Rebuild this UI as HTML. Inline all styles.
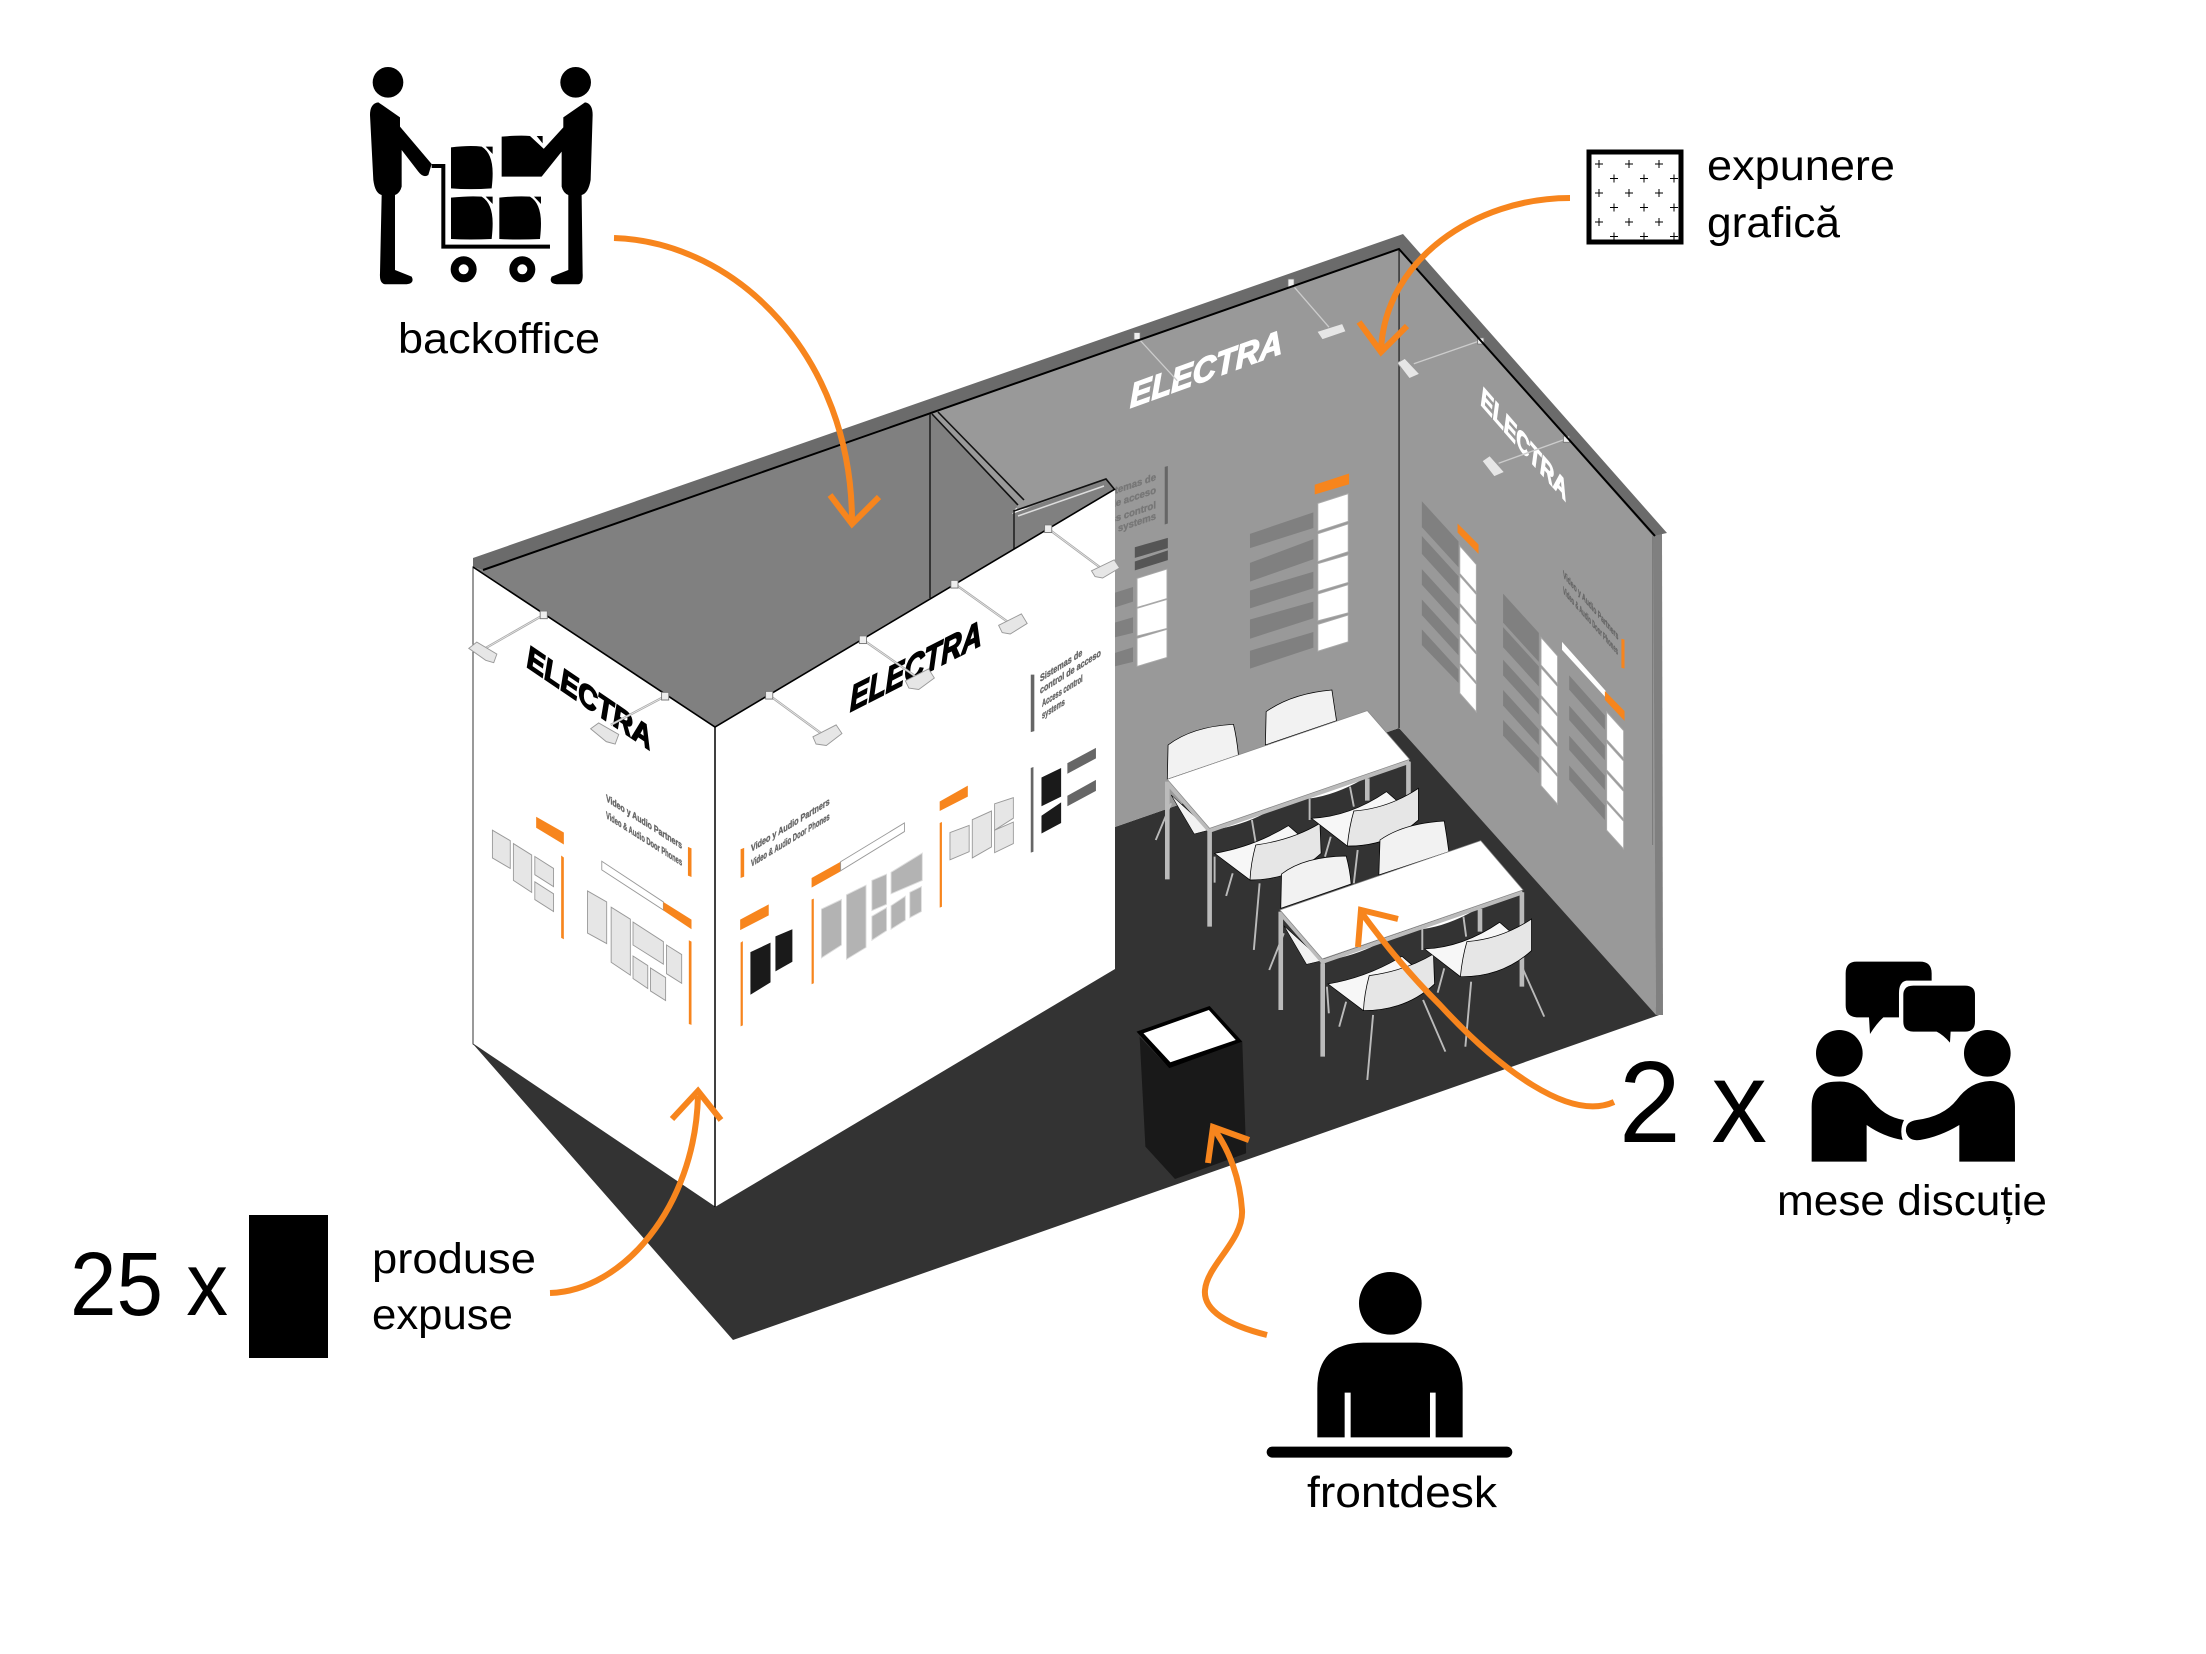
<!DOCTYPE html>
<html><head><meta charset="utf-8"><style>
html,body{margin:0;padding:0;background:#fff}
svg{display:block}
text{font-family:"Liberation Sans",sans-serif}
.l{font-size:43px;fill:#000}
.s{font-weight:bold;fill:#666;font-size:10px;stroke:#666;stroke-width:.4}
.e{font-weight:bold;font-style:italic}
.o{fill:#f7851d}
.f{fill:#e6e6e6;stroke:#999;stroke-width:2}
.g{fill:#b3b3b3;stroke:#ddd;stroke-width:2}
.w{fill:#fff;stroke:#aaa;stroke-width:2}
.d{fill:#808080}
.k{fill:#1a1a1a}
.a{stroke:#aaa;stroke-width:5;fill:none}
.a2{stroke:#eee;stroke-width:1.5;fill:none}
.c{fill:#f2f2f2;stroke:#000;stroke-width:2}
.ar{fill:none;stroke:#f7851d;stroke-width:6}
</style></head><body>
<svg xmlns="http://www.w3.org/2000/svg" width="2206" height="1654" viewBox="0 0 2206 1654">
<defs><pattern id="p" patternUnits="userSpaceOnUse" x="1577" y="200.5" width="30" height="29">
<path d="M3 7h8M7 3v8M18 21.5h8M22 17.5v8" stroke="#000" stroke-width="1" fill="none"/></pattern></defs>
<rect width="2206" height="1654" fill="#fff"/>

<!-- floor -->
<polygon points="473,1044 733,1340 1662,1014 1399,728 1115,827" fill="#333"/>
<!-- walls -->
<polygon points="930,412 1399,249 1399,728 1115,827 1115,488 1018,510" fill="#999"/>
<polygon points="1399,249 1655,536 1656,1015 1399,728" fill="#999"/>
<polygon points="1653,536 1662,532 1663,1015 1656,1015" fill="#808080"/>
<!-- rim -->
<polygon points="473,558 1403,234 1667,533 1653,536 1399,249 483,570 473,567" fill="#6b6b6b"/>

<!-- back wall details -->
<g transform="translate(1050 220) scale(.4464)">
<path d="M782 65V1138" stroke="#444" stroke-width="4"/>
<path d="M1350 708V1400" stroke="#777" stroke-width="2"/>
<polygon points="257,553 264,551 264,680 257,682" fill="#666"/>
<polygon points="190,733 264,712 264,735 190,757" fill="#555"/>
<polygon points="190,765 264,740 264,762 190,785" fill="#555"/>
<polygon class="w" points="195,803 262,782 262,848 195,868"/>
<polygon class="w" points="195,870 262,850 262,915 195,932"/>
<polygon class="w" points="195,937 262,917 262,980 195,1000"/>
<polygon class="d" points="145,835 186,822 186,855 145,868"/>
<polygon class="d" points="145,902 186,890 186,925 145,935"/>
<polygon class="d" points="145,970 186,957 186,990 145,1000"/>
<polygon class="o" points="593,593 670,568 670,592 593,615"/>
<polygon class="w" points="600,635 668,613 668,675 600,697"/>
<polygon class="w" points="600,703 668,681 668,743 600,765"/>
<polygon class="w" points="600,770 668,750 668,812 600,832"/>
<polygon class="w" points="600,838 668,817 668,880 600,898"/>
<polygon class="w" points="600,906 668,885 668,945 600,966"/>
<polygon class="d" points="448,703 590,655 590,690 448,735"/>
<polygon class="d" points="448,768 590,715 590,760 448,810"/>
<polygon class="d" points="448,830 590,788 590,825 448,870"/>
<polygon class="d" points="448,895 590,855 590,892 448,938"/>
<polygon class="d" points="448,965 590,923 590,958 448,1005"/>
<polygon class="o" points="913,680 960,727 960,748 913,700"/>
<polygon class="w" points="918,730 955,772 955,834 918,792"/>
<polygon class="w" points="918,797 955,839 955,901 918,859"/>
<polygon class="w" points="918,864 955,906 955,968 918,926"/>
<polygon class="w" points="918,931 955,973 955,1035 918,993"/>
<polygon class="w" points="918,998 955,1040 955,1102 918,1060"/>
<polygon class="d" points="833,630 915,720 915,778 833,688"/>
<polygon class="d" points="833,708 915,798 915,838 833,748"/>
<polygon class="d" points="833,782 915,872 915,907 833,817"/>
<polygon class="d" points="833,850 915,940 915,975 833,885"/>
<polygon class="d" points="833,917 915,1007 915,1037 833,952"/>
<polygon class="w" points="1100,935 1137,977 1137,1039 1100,997"/>
<polygon class="w" points="1100,1003 1137,1045 1137,1107 1100,1065"/>
<polygon class="w" points="1100,1070 1137,1112 1137,1174 1100,1132"/>
<polygon class="w" points="1100,1138 1137,1180 1137,1242 1100,1200"/>
<polygon class="w" points="1100,1205 1137,1247 1137,1309 1100,1267"/>
<polygon class="d" points="1015,837 1095,925 1095,990 1015,902"/>
<polygon class="d" points="1015,912 1095,1000 1095,1045 1015,957"/>
<polygon class="d" points="1015,985 1095,1073 1095,1108 1015,1020"/>
<polygon class="d" points="1015,1053 1095,1141 1095,1176 1015,1088"/>
<polygon class="d" points="1015,1120 1095,1205 1095,1240 1015,1155"/>
<polygon points="1147,945 1245,1055 1245,1070 1147,963" fill="#fff"/>
<polygon class="o" points="1243,1055 1287,1100 1287,1122 1243,1075"/>
<polygon class="o" points="1280,938 1287,940 1287,1005 1280,1003"/>
<polygon class="w" points="1247,1102 1285,1144 1285,1206 1247,1164"/>
<polygon class="w" points="1247,1170 1285,1212 1285,1274 1247,1232"/>
<polygon class="w" points="1247,1238 1285,1280 1285,1342 1247,1300"/>
<polygon class="w" points="1247,1305 1285,1347 1285,1409 1247,1367"/>
<polygon class="d" points="1163,1020 1243,1110 1243,1142 1163,1052"/>
<polygon class="d" points="1163,1088 1243,1178 1243,1210 1163,1120"/>
<polygon class="d" points="1163,1155 1243,1245 1243,1277 1163,1187"/>
<polygon class="d" points="1163,1222 1243,1312 1243,1344 1163,1254"/>
</g>
<!-- wall text -->
<text class="e" fill="#fff" stroke="#fff" stroke-width="1.4" font-size="34" textLength="162" lengthAdjust="spacingAndGlyphs" transform="matrix(.941 -.34 0 1 1130 408)">ELECTRA</text>
<text class="e" fill="#fff" stroke="#fff" stroke-width="1.4" font-size="30" textLength="130" lengthAdjust="spacingAndGlyphs" transform="matrix(.658 .752 0 1 1481 405)">ELECTRA</text>
<g transform="translate(1050 220) scale(.4464)">
<g stroke="#ccc" stroke-width="3" fill="none">
<path d="M195 262L285 360M540 142L625 240M965 270L815 322M1157 490L1005 545"/>
</g>
<g fill="#eee" stroke="#777" stroke-width="2">
<rect x="188" y="252" width="14" height="16"/><rect x="533" y="132" width="14" height="18"/>
<rect x="958" y="264" width="14" height="14"/><rect x="1150" y="484" width="14" height="14"/>
</g>
<polygon class="f" points="598,250 655,232 663,250 610,268"/>
<polygon class="f" points="778,320 795,310 828,345 805,355"/>
<polygon class="f" points="968,540 985,528 1018,565 995,575"/>
</g>
<g>
<text class="s" style="fill:#777;stroke:#777" text-anchor="end" transform="matrix(.95 -.32 0 1 1156 480)">Sistemas de</text>
<text class="s" style="fill:#777;stroke:#777" text-anchor="end" transform="matrix(.95 -.32 0 1 1156 493)">de acceso</text>
<text class="s" style="fill:#777;stroke:#777" text-anchor="end" transform="matrix(.95 -.32 0 1 1156 508)">Access control</text>
<text class="s" style="fill:#777;stroke:#777" text-anchor="end" transform="matrix(.95 -.32 0 1 1156 519)">systems</text>
</g>
<text class="s" textLength="84" lengthAdjust="spacingAndGlyphs" transform="matrix(.658 .753 0 1 1563 577)">Video y Audio Partners</text>
<text class="s" textLength="83" lengthAdjust="spacingAndGlyphs" transform="matrix(.662 .75 0 1 1563 593)">Video &amp; Audio Door Phones</text>

<!-- interior backoffice -->
<polygon points="483,570 930,412 1018,505 1012,514 1106,479 1115,490 1115,489 715,727 473,567" fill="#808080"/>
<path d="M483 570L1399 249L1655 536" stroke="#000" stroke-width="2" fill="none"/>
<path d="M930 414V598M1014 510V550" stroke="#222" stroke-width="1.6"/>
<path d="M932 414L1018 505M938 412L1024 500" stroke="#111" stroke-width="1.6" fill="none"/>
<path d="M1014 511L1106 479L1115 490" stroke="#111" stroke-width="1.6" fill="none"/>
<path d="M1018 516L1104 486" stroke="#ddd" stroke-width="1.5" fill="none"/>

<!-- furniture -->
<g transform="translate(1100 680) scale(.3846 .3333)">
<path class="c" d="M175 298L177 195Q240 140 347 133Q355 170 360 225Z"/>
<path class="c" d="M430 195L432 95Q500 40 603 30Q608 70 615 122Z"/>
<g stroke="#bbb" stroke-width="5" fill="none">
<path d="M395 420L405 490M545 355V420M650 320L660 380M185 370L145 480"/>
<path d="M838 745V810M945 710L952 770M478 760L440 870"/>
</g>
<path d="M185 345L245 462L285 450Z" fill="#f2f2f2" stroke="#000" stroke-width="1.5"/>
<path d="M295 450Q370 435 425 402L300 445Z" fill="#fff"/>
<path d="M548 355Q610 345 680 300L545 345Z" fill="#fff"/>
<!-- table 1 -->
<g stroke="#bbb" stroke-width="12" fill="none" stroke-linecap="butt">
<path d="M175 305V598M285 455V740M802 245V345M695 295V362"/>
<path d="M175 308L285 452L805 245"/>
</g>
<polygon points="175,298 695,92 805,238 285,445" fill="#fff" stroke="#888" stroke-width="2"/>
<!-- front chairs table 1 -->
<g stroke="#bbb" stroke-width="5" fill="none"><path d="M298 530V608M345 580L328 648M415 610L400 810M600 470L585 530M670 510L660 610"/></g>
<path class="c" d="M298 520Q400 500 490 437L515 462L575 520Q500 600 390 600Z" style="fill:#f7f7f7"/>
<path class="c" d="M572 430Q500 480 405 495Q392 550 390 600Q500 600 575 520Z" style="fill:#e6e6e6"/>
<path class="c" d="M550 415Q650 410 745 335L770 360L828 420Q750 500 643 498Z" style="fill:#f7f7f7"/>
<path class="c" d="M828 325Q750 385 660 393Q648 440 643 498Q750 500 828 420Z" style="fill:#e6e6e6"/>
<!-- back chairs table 2 -->
<path class="c" d="M470 685L472 582Q530 530 640 528Q650 570 653 612Z"/>
<path class="c" d="M725 585L728 480Q790 430 895 423Q902 470 907 515Z"/>
<path d="M478 737L537 853L578 842Z" fill="#f2f2f2" stroke="#000" stroke-width="1.5"/>
<path d="M588 842Q663 827 718 794L593 837Z" fill="#fff"/>
<path d="M841 747Q903 737 973 692L838 737Z" fill="#fff"/>
<!-- table 2 -->
<g stroke="#bbb" stroke-width="12" fill="none">
<path d="M470 695V990M579 850V1130M1097 637V920M988 687V755"/>
<path d="M470 700L579 845L1099 637"/>
</g>
<polygon points="468,690 990,482 1100,630 578,837" fill="#fff" stroke="#888" stroke-width="2"/>
<!-- front chairs table 2 -->
<g stroke="#bbb" stroke-width="5" fill="none"><path d="M590 920L595 1000M640 965L622 1040M710 1005L695 1200M840 960L898 1115M895 865L878 938M965 905L950 1100M1095 855L1155 1010"/></g>
<path class="c" d="M593 912Q695 892 785 829L810 854L870 912Q795 992 685 992Z" style="fill:#f7f7f7"/>
<path class="c" d="M867 822Q795 872 700 887Q687 942 685 992Q795 992 870 912Z" style="fill:#e6e6e6"/>
<path class="c" d="M844 807Q944 802 1039 727L1064 752L1122 812Q1044 892 937 890Z" style="fill:#f7f7f7"/>
<path class="c" d="M1122 717Q1044 777 954 785Q942 832 937 890Q1044 892 1122 812Z" style="fill:#e6e6e6"/>
<!-- lectern -->
<polygon points="103,1070 180,1165 370,1085 380,1420 195,1497 118,1400" fill="#191919"/>
<polygon points="95,1055 285,978 370,1085 180,1165" fill="#000"/>
<polygon points="113,1060 283,990 353,1080 183,1147" fill="#fff"/>
</g>

<!-- white walls -->
<polygon points="473,567 715,727 715,1207 473,1044" fill="#fff" stroke="#333" stroke-width="1"/>
<polygon points="715,727 1115,489 1115,969 715,1207" fill="#fff"/>
<path d="M715 727V1207" stroke="#000" stroke-width="1.5"/>
<path d="M473 567L715 727L1115 489" stroke="#000" stroke-width="1.6" fill="none"/>

<g transform="translate(450 500) scale(.4464 .4785)">
<polygon class="o" points="193,662 255,695 255,720 193,685"/>
<polygon class="o" points="249,743 255,747 255,918 249,915"/>
<polygon class="f" points="95,690 135,712 135,770 95,748"/>
<polygon class="f" points="142,718 183,742 183,820 142,795"/>
<polygon class="f" points="190,745 232,770 232,808 190,783"/>
<polygon class="f" points="190,798 232,823 232,860 190,835"/>
<polygon points="340,755 478,840 478,857 340,773" fill="#fff" stroke="#999" stroke-width="2"/>
<polygon class="o" points="478,840 541,877 541,897 478,858"/>
<polygon class="o" points="533,725 541,728 541,788 533,785"/>
<polygon class="o" points="535,920 541,923 541,1097 535,1095"/>
<polygon class="f" points="308,817 351,840 351,927 308,905"/>
<polygon class="f" points="361,851 404,876 404,993 361,966"/>
<polygon class="f" points="410,882 478,923 478,970 410,930"/>
<polygon class="f" points="485,930 519,950 519,1010 485,990"/>
<polygon class="f" points="410,953 443,973 443,1021 410,1000"/>
<polygon class="f" points="449,978 483,998 483,1046 449,1026"/>
<polygon class="o" points="651,730 659,727 659,787 651,790"/>
<polygon class="o" points="650,877 714,845 714,868 650,899"/>
<polygon class="o" points="651,925 656,922 656,1098 651,1100"/>
<polygon class="k" points="673,945 718,925 718,1008 673,1034"/>
<polygon class="k" points="729,912 767,897 767,965 729,985"/>
<polygon class="o" points="810,790 875,756 875,776 810,810"/>
<polygon points="875,756 1018,675 1018,693 875,775" fill="#fff" stroke="#999" stroke-width="2"/>
<polygon class="o" points="810,835 815,833 815,1010 810,1012"/>
<polygon class="g" points="832,855 877,835 877,930 832,957"/>
<polygon class="g" points="888,825 932,805 932,935 888,960"/>
<polygon class="g" points="945,795 978,782 978,845 945,858"/>
<polygon class="g" points="945,870 978,852 978,900 945,920"/>
<polygon class="g" points="988,778 1058,738 1058,795 988,823"/>
<polygon class="g" points="988,848 1020,828 1020,878 988,897"/>
<polygon class="g" points="1030,820 1056,808 1056,860 1030,873"/>
<polygon class="o" points="1097,630 1160,597 1160,620 1097,650"/>
<polygon class="o" points="1097,675 1102,673 1102,850 1097,852"/>
<polygon class="f" points="1120,695 1163,680 1163,735 1120,752"/>
<polygon class="f" points="1170,668 1213,650 1213,725 1170,748"/>
<polygon class="f" points="1220,635 1262,622 1262,665 1220,690"/>
<polygon class="f" points="1220,690 1262,673 1262,718 1220,737"/>
<polygon fill="#666" points="1301,365 1309,365 1309,483 1301,485"/>
<polygon fill="#666" points="1301,560 1307,558 1307,735 1301,737"/>
<polygon class="k" points="1325,580 1369,560 1369,620 1325,640"/>
<polygon class="k" points="1325,660 1369,632 1369,675 1325,697"/>
<polygon fill="#666" points="1383,550 1447,518 1447,540 1383,572"/>
<polygon fill="#666" points="1383,618 1447,585 1447,608 1383,640"/>
</g>

<!-- white wall texts -->
<text class="e" fill="#000" stroke="#000" stroke-width="1.6" font-size="34" textLength="150" lengthAdjust="spacingAndGlyphs" transform="matrix(.827 .562 0 1 527 667)">ELECTRA</text>
<text class="e" fill="#000" stroke="#000" stroke-width="1.6" font-size="36" textLength="148" lengthAdjust="spacingAndGlyphs" transform="matrix(.89 -.455 0 1 850 712)">ELECTRA</text>
<text class="s" textLength="90" lengthAdjust="spacingAndGlyphs" transform="matrix(.845 .534 0 1 606 801)">Video y Audio Partners</text>
<text class="s" textLength="90" lengthAdjust="spacingAndGlyphs" transform="matrix(.845 .534 0 1 606 818)">Video &amp; Audio Door Phones</text>
<text class="s" textLength="92" lengthAdjust="spacingAndGlyphs" transform="matrix(.855 -.519 0 1 751 852)">Video y Audio Partners</text>
<text class="s" textLength="92" lengthAdjust="spacingAndGlyphs" transform="matrix(.855 -.519 0 1 751 867)">Video &amp; Audio Door Phones</text>
<text class="s" textLength="50" lengthAdjust="spacingAndGlyphs" transform="matrix(.846 -.533 0 1 1040 682)">Sistemas de</text>
<text class="s" textLength="72" lengthAdjust="spacingAndGlyphs" transform="matrix(.846 -.533 0 1 1040 694)">control de acceso</text>
<text class="s" textLength="48" lengthAdjust="spacingAndGlyphs" transform="matrix(.846 -.533 0 1 1042 707)">Access control</text>
<text class="s" textLength="27" lengthAdjust="spacingAndGlyphs" transform="matrix(.846 -.533 0 1 1042 719)">systems</text>

<!-- lamps on white wall -->
<g transform="translate(450 500) scale(.4464 .4785)">
<path class="a" d="M210 240L75 312M482 410L360 470M715 408L835 490M925 292L1045 370M1130 175L1250 255M1340 60L1455 140"/>
<path class="a2" d="M210 240L75 312M482 410L360 470M715 408L835 490M925 292L1045 370M1130 175L1250 255M1340 60L1455 140"/>
<g fill="#eee" stroke="#777" stroke-width="2">
<rect x="202" y="232" width="16" height="16"/><rect x="474" y="402" width="16" height="16"/>
<rect x="707" y="400" width="16" height="16"/><rect x="917" y="284" width="16" height="16"/>
<rect x="1122" y="168" width="16" height="16"/><rect x="1332" y="52" width="16" height="16"/>
</g>
<polygon class="f" points="42,310 60,297 105,322 98,340 80,335"/>
<polygon class="f" points="315,478 333,466 378,490 370,510 350,505"/>
<polygon class="f" points="813,495 865,470 878,488 843,513 820,510"/>
<polygon class="f" points="1020,378 1072,353 1085,372 1050,396 1028,393"/>
<polygon class="f" points="1229,262 1280,238 1293,258 1255,280 1237,277"/>
<polygon class="f" points="1437,148 1488,125 1500,142 1462,163 1445,160"/>
</g>

<!-- arrows -->
<g class="ar">
<path d="M614 238C737 242 852 357 852 522"/><path d="M830 495L852 524L879 497"/>
<path d="M1570 198C1475 198 1385 260 1381 350"/><path d="M1359 322L1381 352L1407 326"/>
<path d="M550 1293C622 1291 695 1208 698 1096"/><path d="M672 1119L698 1091L721 1120"/>
<path d="M1614 1102C1570 1122 1500 1070 1440 1005C1410 975 1385 945 1361 912"/><path d="M1398 919L1361 910L1358 947"/>
<path d="M1267 1335C1227 1325 1203 1310 1205 1290C1207 1265 1244 1240 1242 1210C1240 1180 1230 1150 1213 1128"/><path d="M1249 1140L1213 1127L1208 1163"/>
</g>

<!-- backoffice icon -->
<g transform="translate(340 40) scale(.3333)" fill="#000">
<circle cx="144" cy="127" r="46"/><circle cx="707" cy="127" r="46"/>
<path d="M90 225Q90 190 115 187L180 232V260L275 372L265 405Q250 415 235 395L185 330V440Q180 460 165 465V690L215 710Q225 730 200 733H135Q118 730 120 700L125 465Q105 460 100 420Z"/>
<path d="M758 225Q758 190 735 187L670 232V262L608 330L605 410L665 335V440Q670 460 685 465V690L635 710Q625 730 650 733H715Q730 730 728 700L725 465Q745 460 752 420Z"/>
<path d="M275 378H310V620H630" fill="none" stroke="#000" stroke-width="12"/>
<circle cx="371" cy="688" r="27" fill="none" stroke="#000" stroke-width="24"/>
<circle cx="547" cy="688" r="27" fill="none" stroke="#000" stroke-width="24"/>
<path d="M333 322Q390 315 425 320Q458 340 458 400Q458 420 455 445Q390 450 333 445ZM437 320H458V342Z"/>
<path d="M333 473Q390 467 425 470Q458 490 458 550Q458 570 455 597Q390 600 333 597ZM437 470H458V492Z"/>
<path d="M478 473Q535 467 570 470Q603 490 603 550Q603 570 600 597Q535 600 478 597ZM582 470H603V492Z"/>
<path d="M485 290Q540 285 570 288L610 325L630 345L605 410H485ZM590 288H608V310Z"/>
</g>

<!-- mese icon -->
<g transform="translate(1700 940) scale(.3333)" fill="#000">
<path d="M470 65H660Q695 65 695 100V122H620Q597 125 597 160V232H550Q530 250 510 282L507 232H470Q437 230 437 195V100Q437 65 470 65Z"/>
<path d="M640 137H795Q825 137 825 165V245Q825 275 795 275H752L750 308Q730 285 710 275H640Q610 275 610 245V165Q610 137 640 137Z"/>
<circle cx="418" cy="340" r="70"/><circle cx="862" cy="340" r="70"/>
<path d="M335 665V500Q335 425 410 425Q470 420 510 475Q550 530 612 540Q598 570 608 600Q550 590 500 555V665Z"/>
<path d="M945 665V500Q945 425 870 423Q810 425 770 480Q730 530 650 540Q615 545 618 575Q625 605 660 600Q720 590 778 555V665Z"/>
</g>

<!-- frontdesk icon -->
<g transform="translate(1240 1260) scale(.3333)" fill="#000">
<circle cx="451" cy="130" r="94"/>
<path d="M232 532V385Q232 250 370 248H530Q668 250 668 385V532H587V398H570V532H332V398H314V532Z"/>
<rect x="80" y="560" width="737" height="33" rx="17"/>
</g>

<!-- 25 x box and swatch -->
<rect x="249" y="1215" width="79" height="143" fill="#000"/>
<rect x="1589" y="152" width="92" height="90" fill="#fff"/>
<rect x="1589" y="152" width="92" height="90" fill="url(#p)" stroke="#000" stroke-width="5"/>

<!-- labels -->
<text class="l" x="398" y="353" textLength="202" lengthAdjust="spacingAndGlyphs" font-size="44">backoffice</text>
<text class="l" x="1707" y="180" textLength="188" lengthAdjust="spacingAndGlyphs">expunere</text>
<text class="l" x="1707" y="237" textLength="133" lengthAdjust="spacingAndGlyphs">grafică</text>
<text class="l" x="372" y="1273" textLength="164" lengthAdjust="spacingAndGlyphs">produse</text>
<text class="l" x="372" y="1329" textLength="141" lengthAdjust="spacingAndGlyphs">expuse</text>
<text class="l" x="70" y="1315" textLength="158" lengthAdjust="spacingAndGlyphs" style="font-size:90px">25 x</text>
<text class="l" x="1619" y="1142" textLength="148" lengthAdjust="spacingAndGlyphs" style="font-size:116px">2 x</text>
<text class="l" x="1777" y="1215" textLength="270" lengthAdjust="spacingAndGlyphs">mese discuție</text>
<text class="l" x="1307" y="1507" textLength="190" lengthAdjust="spacingAndGlyphs" style="font-size:44px">frontdesk</text>
</svg>
</body></html>
